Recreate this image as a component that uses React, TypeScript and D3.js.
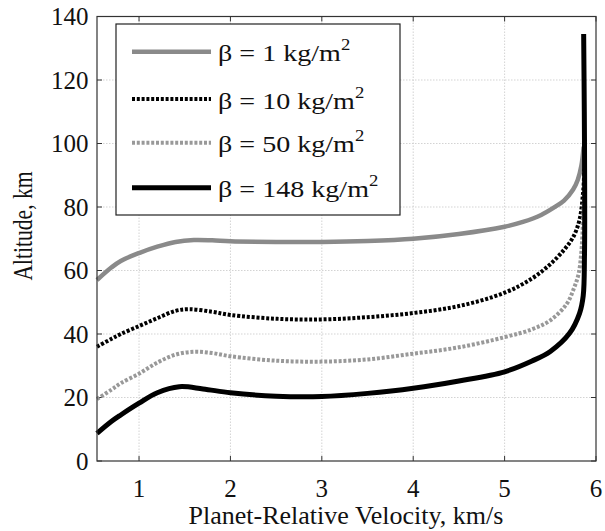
import React from "react";
import * as d3 from "d3";

const xTicks = [1, 2, 3, 4, 5, 6];
const yTicks = [0, 20, 40, 60, 80, 100, 120, 140];

const v1 = [0.54, 0.7, 0.8, 1.0, 1.2, 1.4, 1.6, 1.8, 2.0, 2.5, 3.0, 3.5, 4.0, 4.5, 5.0, 5.2, 5.4, 5.55, 5.65, 5.75, 5.8, 5.84, 5.865];
const h1 = [57, 61, 63, 65.5, 67.5, 69, 69.6, 69.5, 69.2, 69, 69, 69.3, 70, 71.5, 73.8, 75.3, 77.5, 80, 82, 85.5, 88.5, 93, 99];

const v10 = [0.54, 0.7, 0.8, 1.0, 1.2, 1.4, 1.55, 1.8, 2.0, 2.5, 3.0, 3.5, 4.0, 4.5, 5.0, 5.3, 5.5, 5.65, 5.75, 5.82, 5.86, 5.872];
const h10 = [36, 38.5, 40, 42.5, 45, 47.3, 47.8, 47, 46, 44.8, 44.6, 45.3, 46.6, 48.8, 53, 57.5, 62, 66.5, 70.5, 76, 85, 92];

const v50 = [0.54, 0.7, 0.8, 1.0, 1.2, 1.4, 1.6, 1.8, 2.0, 2.5, 3.0, 3.5, 4.0, 4.5, 5.0, 5.3, 5.5, 5.68, 5.76, 5.81, 5.84, 5.86, 5.872];
const h50 = [19.5, 22.5, 24.5, 27.5, 31, 33.5, 34.4, 34, 33, 31.6, 31.3, 32, 33.8, 35.8, 39, 41.5, 44.3, 49.5, 54.5, 59, 66, 77, 85];

const v148 = [0.54, 0.7, 0.8, 1.0, 1.2, 1.44, 1.7, 2.0, 2.5, 3.0, 3.5, 4.0, 4.5, 5.0, 5.3, 5.5, 5.71, 5.82, 5.86, 5.874, 5.876, 5.872, 5.865];
const h148 = [8.7, 12.5, 14.5, 18.2, 21.5, 23.4, 22.7, 21.5, 20.4, 20.3, 21.3, 22.9, 25.2, 28.1, 31.5, 34.5, 40.2, 46.5, 52, 65, 85, 110, 134.5];

const seriesNames = ["1", "10", "50", "148"];

const W = 605, H = 531;
const L = 97, R = 596, T = 16.5, B = 461;

export default function App() {
  const x = d3.scaleLinear().domain([0.54, 6]).range([L, R]);
  const y = d3.scaleLinear().domain([0, 140]).range([B, T]);
  const line = d3.line<[number, number]>()
    .x((d) => x(d[0]))
    .y((d) => y(d[1]))
    .curve(d3.curveCatmullRom.alpha(0.5));

  const zip = (a: number[], b: number[]) => a.map((v, i) => [v, b[i]] as [number, number]);

  const styles = [
    { stroke: "#8a8a8a", width: 4.5, dash: undefined as string | undefined },
    { stroke: "#000", width: 4, dash: "3,1.8" },
    { stroke: "#999", width: 4, dash: "3,1.8" },
    { stroke: "#000", width: 5, dash: undefined as string | undefined },
  ];
  const data = [zip(v1, h1), zip(v10, h10), zip(v50, h50), zip(v148, h148)];

  const font = "'Liberation Serif', 'Times New Roman', serif";
  const legendRows = [51.7, 99, 142.7, 187.7];

  return (
    <svg width={W} height={H} style={{ position: "absolute", left: 0, top: 0, background: "#fff" }} fontFamily={font}>
      <rect x={0} y={0} width={W} height={H} fill="#fff" />
      {/* grid */}
      {xTicks.filter((t) => t < 6).map((t) => (
        <line key={"gx" + t} x1={x(t)} x2={x(t)} y1={T} y2={B} stroke="#c8c8c8" strokeWidth={0.8} strokeDasharray="1.5,1.5" />
      ))}
      {yTicks.filter((t) => t > 0 && t < 140).map((t) => (
        <line key={"gy" + t} x1={L} x2={R} y1={y(t)} y2={y(t)} stroke="#c8c8c8" strokeWidth={0.8} strokeDasharray="1.5,1.5" />
      ))}
      {/* ticks */}
      {xTicks.map((t) => (
        <g key={"tx" + t}>
          <line x1={x(t)} x2={x(t)} y1={B} y2={B - 5} stroke="#333" />
          <line x1={x(t)} x2={x(t)} y1={T} y2={T + 5} stroke="#333" />
          <text x={x(t)} y={497} fontSize={25} textAnchor="middle" fill="#111">{t}</text>
        </g>
      ))}
      {yTicks.map((t) => (
        <g key={"ty" + t}>
          <line x1={L} x2={L + 5} y1={y(t)} y2={y(t)} stroke="#333" />
          <line x1={R} x2={R - 5} y1={y(t)} y2={y(t)} stroke="#333" />
          <text x={88.5} y={y(t) + 8.5} fontSize={25} textAnchor="end" fill="#111">{t}</text>
        </g>
      ))}
      {/* series */}
      {data.map((d, i) => (
        <path key={"s" + i} d={line(d) || ""} fill="none" stroke={styles[i].stroke}
          strokeWidth={styles[i].width} strokeDasharray={styles[i].dash} strokeLinejoin="round" />
      ))}
      {/* frame */}
      <rect x={L} y={T} width={R - L} height={B - T} fill="none" stroke="#333" strokeWidth={1.2} />
      {/* legend */}
      <rect x={116} y={24} width={284} height={191} fill="#fff" stroke="#222" strokeWidth={1.2} />
      {seriesNames.map((n, i) => (
        <g key={"lg" + i}>
          <line x1={132} x2={211} y1={legendRows[i]} y2={legendRows[i]} stroke={styles[i].stroke}
            strokeWidth={styles[i].width} strokeDasharray={styles[i].dash} />
          <g transform={`translate(218, ${legendRows[i] + 9.5}) scale(1.17, 1)`}>
            <text x={0} y={0} fontSize={24} fill="#111">
              {"β = " + n + " kg/m"}
              <tspan fontSize={16} dy={-11}>2</tspan>
            </text>
          </g>
        </g>
      ))}
      {/* axis labels */}
      <text x={346} y={524} fontSize={26} textAnchor="middle" fill="#111">Planet-Relative Velocity, km/s</text>
      <text transform={`translate(32, 226) rotate(-90) scale(0.8, 1)`} fontSize={27} textAnchor="middle" fill="#111">Altitude, km</text>
    </svg>
  );
}
